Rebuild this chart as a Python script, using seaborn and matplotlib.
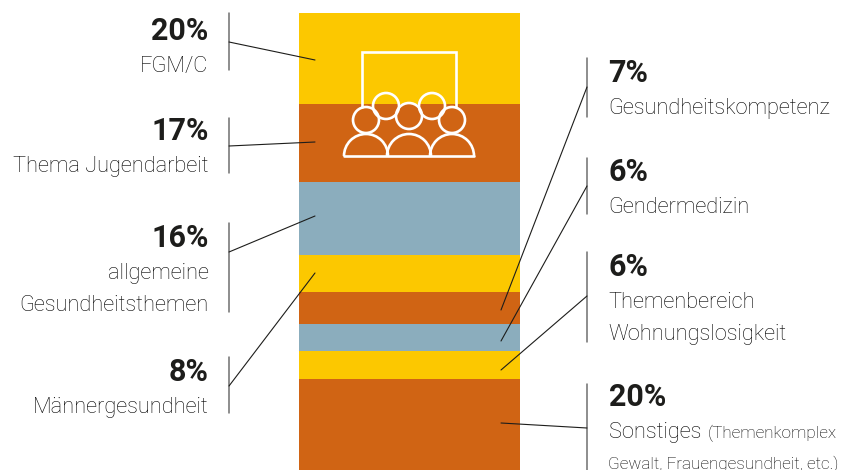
#!/usr/bin/env python3
"""Stacked single-column share chart with leader-line labels."""

import matplotlib.pyplot as plt
import pandas as pd
import seaborn as sns
from matplotlib.patches import Arc, Circle

W, H = 851, 470
YELLOW, ORANGE, BLUE = "#FCC800", "#D06414", "#8BADBD"

TOPICS = ["FGM/C", "Thema Jugendarbeit", "allgemeine Gesundheitsthemen", "Männergesundheit",
          "Gesundheitskompetenz", "Gendermedizin", "Wohnungslosigkeit", "Sonstiges"]
SHARES = [20, 17, 16, 8, 7, 6, 6, 20]
COLORS = [YELLOW, ORANGE, BLUE, YELLOW, ORANGE, BLUE, YELLOW, ORANGE]

# right-aligned labels on the left, left-aligned labels on the right
LEFT_LABELS = [
    ("20%", ["FGM/C"], 30, 13, 70, 42, (315, 60)),
    ("17%", ["Thema Jugendarbeit"], 130, 118, 173, 146, (315, 142)),
    ("16%", ["allgemeine", "Gesundheitsthemen"], 237, 223, 312, 252, (315, 216)),
    ("8%", ["Männergesundheit"], 371, 357, 413, 386, (315, 273)),
]
RIGHT_LABELS = [
    ("7%", ["Gesundheitskompetenz"], 72, 58, 117, 87, (501, 310)),
    ("6%", ["Gendermedizin"], 171, 158, 214, 186, (501, 341)),
    ("6%", ["Themenbereich", "Wohnungslosigkeit"], 266, 252, 342, 296, (501, 370)),
    ("20%", ["Sonstiges"], 396, 384, 470, 428, (501, 423)),
]

sns.set_theme(style="white")
plt.rcParams["font.family"] = ["Roboto", "DejaVu Sans"]

df = pd.DataFrame({"topic": TOPICS, "share": SHARES, "color": COLORS})
df["bottom"] = df["share"].cumsum() - df["share"]

fig = plt.figure(figsize=(W / 100, H / 100), dpi=100, facecolor="white")
ax = fig.add_axes([299 / W, 0, 221 / W, 457 / H])
for _, row in df.iterrows():
    sns.barplot(x=[0], y=[row["share"]], bottom=row["bottom"], color=row["color"],
                saturation=1, width=1, linewidth=0, ax=ax)
ax.set_xlim(-0.5, 0.5)
ax.set_ylim(100, 0)
ax.axis("off")

# overlay in pixel coordinates for labels, leaders and the icon
ov = fig.add_axes([0, 0, 1, 1], facecolor="none")
ov.set_xlim(0, W)
ov.set_ylim(H, 0)
ov.axis("off")
INK = "#1d1d1b"


def draw_label(item, bar_x, text_x, ha):
    pct, lines, y, y0, y1, ym, end = item
    ov.plot([bar_x, bar_x], [y0, y1], color="#6f6f6f", lw=1.1, clip_on=False)
    ov.plot([bar_x, end[0]], [ym, end[1]], color=INK, lw=0.8)
    ov.text(text_x, y + 1, pct, ha=ha, va="center", fontsize=22, fontweight="bold", color=INK)
    for i, line in enumerate(lines):
        ov.text(text_x, y + 36.5 + i * 32, line, ha=ha, va="center", fontsize=15.7,
                fontweight="light", color="#000000")


for item in LEFT_LABELS:
    draw_label(item, 229, 208.5, "right")
for item in RIGHT_LABELS:
    draw_label(item, 587, 608.5, "left")

ov.text(708, 433, "(Themenkomplex", ha="left", va="center", fontsize=12.3,
        fontweight="light", color="#000000")
ov.text(608.5, 464, "Gewalt, Frauengesundheit, etc.)", ha="left", va="center", fontsize=12.3,
        fontweight="light", color="#000000")

# audience icon
lw = 1.9
ov.plot([362, 362, 456, 456], [107, 52, 52, 107], color="white", lw=lw, solid_joinstyle="miter")
for cx, cy in [(366, 120), (386, 106), (409, 116), (432, 106), (452, 120)]:
    ov.add_patch(Circle((cx, cy), 13, fill=False, ec="white", lw=lw))
for cx in [366, 409, 452]:
    ov.add_patch(Arc((cx, 156), 44, 44, theta1=180, theta2=360, ec="white", lw=lw))
ov.plot([344, 474], [156, 156], color="white", lw=lw)

fig.savefig("out.png", dpi=100, facecolor="white")
plt.close(fig)
